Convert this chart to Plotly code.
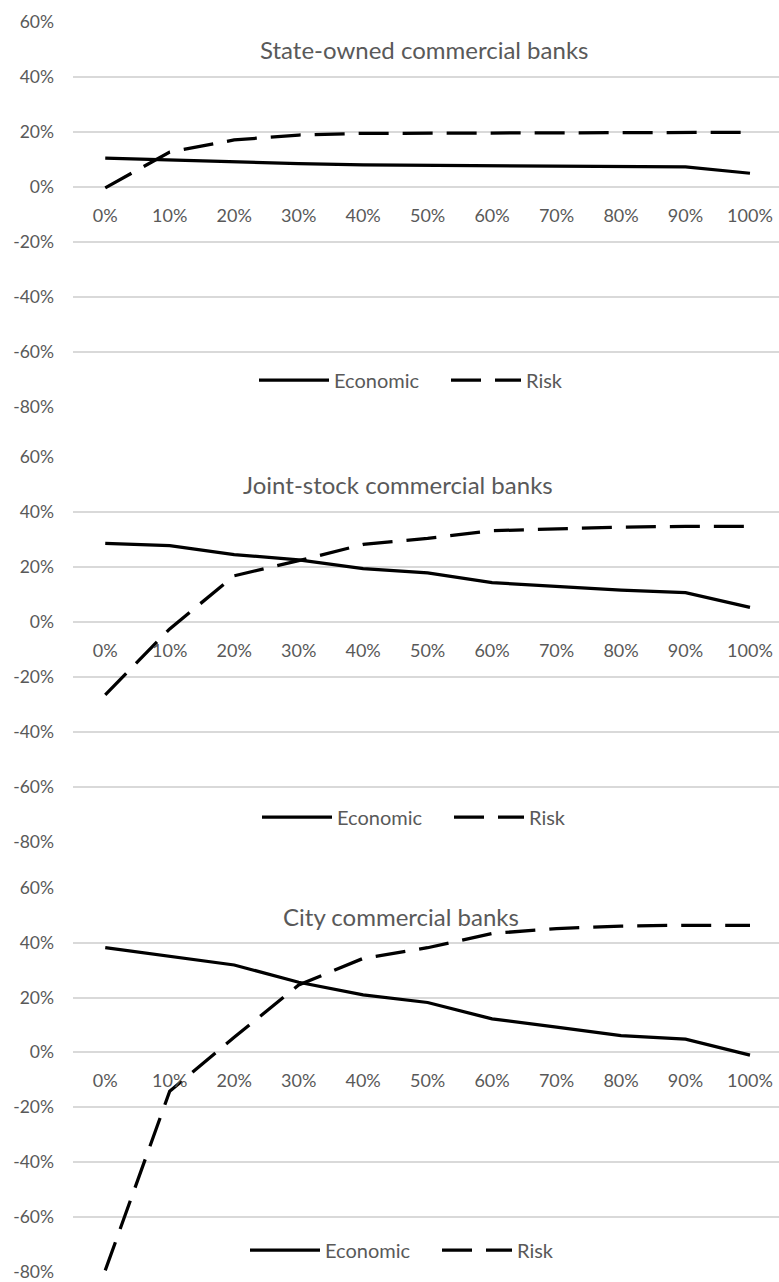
import plotly.graph_objects as go

# Share of loans shifted (x) vs. change in economic / risk outcome (%)
categories = ["0%", "10%", "20%", "30%", "40%", "50%", "60%", "70%", "80%", "90%", "100%"]

state_economic = [10.5, 9.8, 9.0, 8.5, 8.0, 7.9, 7.9, 7.7, 7.4, 7.3, 5.0]
state_risk = [-0.3, 12.7, 17.1, 18.9, 19.5, 19.6, 19.7, 19.8, 19.9, 19.9, 19.9]

joint_economic = [28.6, 27.8, 24.5, 22.6, 19.4, 17.9, 14.3, 12.9, 11.6, 10.7, 5.3]
joint_risk = [-26.5, -2.5, 16.8, 22.3, 28.2, 30.4, 33.2, 33.9, 34.5, 34.8, 34.8]

city_economic = [38.2, 35.2, 31.9, 25.6, 21.0, 18.2, 12.2, 9.2, 6.1, 4.8, -1.0]
city_risk = [-79.6, -14.2, 5.5, 24.6, 34.3, 38.2, 43.4, 45.2, 46.1, 46.4, 46.4]

panel_titles = ["State-owned commercial banks", "Joint-stock commercial banks", "City commercial banks"]
y_ticks = [-80, -60, -40, -20, 0, 20, 40, 60]
y_tick_text = [f"{v}%" for v in y_ticks]

W, H = 779, 1282
FONT = "Lato"
GREY = "#595959"
GRID = "#d9d9d9"

panels = [
    (panel_titles[0], state_economic, state_risk),
    (panel_titles[1], joint_economic, joint_risk),
    (panel_titles[2], city_economic, city_risk),
]

# pixel layout of each plot area (top of 60% line, bottom of -80% line)
panel_px = [(22, 407), (457, 842), (888, 1271.5)]
title_px = [(424, 49.5), (398, 484.5), (401, 916)]
legend_px = [(254, 380), (257, 817), (245, 1250)]
y_lo, y_hi = -80.3, 60.3
x_left_px = 73

fig = go.Figure()
layout = dict(
    template="none",
    width=W, height=H,
    margin=dict(l=0, r=0, t=0, b=0, autoexpand=False),
    paper_bgcolor="white", plot_bgcolor="white",
    font=dict(family=FONT, color=GREY),
    hovermode=False,
    annotations=[],
)

for i, (title, econ, risk) in enumerate(panels):
    sfx = "" if i == 0 else str(i + 1)
    leg = "legend" + sfx
    fig.add_trace(go.Scatter(
        x=categories, y=econ, name="Economic", mode="lines",
        line=dict(color="black", width=3.25),
        xaxis="x" + sfx, yaxis="y" + sfx, legend=leg,
    ))
    fig.add_trace(go.Scatter(
        x=categories, y=risk, name="Risk", mode="lines",
        line=dict(color="black", width=3.25, dash="30px,14px"),
        xaxis="x" + sfx, yaxis="y" + sfx, legend=leg,
    ))

    top_px, bot_px = panel_px[i]
    scale = (bot_px - top_px) / (60 - (-80))
    d1 = 1 - (top_px - (y_hi - 60) * scale) / H
    d0 = 1 - (bot_px + (-80 - y_lo) * scale) / H
    zero_pos = d0 + (d1 - d0) * (0 - y_lo) / (y_hi - y_lo)

    layout["yaxis" + sfx] = dict(
        domain=[d0, d1], range=[y_lo, y_hi],
        tickmode="array", tickvals=y_ticks, ticktext=y_tick_text,
        showgrid=True, gridcolor=GRID, gridwidth=1.5,
        zeroline=False, showline=False, ticks="",
        ticklabelstandoff=18, automargin=False, ticklabeloverflow="allow",
        tickfont=dict(family=FONT, size=17.5, color=GREY),
        anchor="x" + sfx, fixedrange=True,
    )
    layout["xaxis" + sfx] = dict(
        domain=[x_left_px / W, 1.0], range=[-0.5, 10.45],
        type="category", anchor="free", position=zero_pos,
        showgrid=False, zeroline=False, showline=False, ticks="",
        ticklabelstandoff=16, automargin=False,
        tickfont=dict(family=FONT, size=18, color=GREY),
        fixedrange=True,
    )
    lx, ly = legend_px[i]
    layout[leg] = dict(
        orientation="h", x=lx / W, y=1 - ly / H,
        xanchor="left", yanchor="middle",
        itemwidth=70, entrywidth=107, bgcolor="rgba(0,0,0,0)",
        font=dict(family=FONT, size=20, color=GREY),
        traceorder="normal",
    )
    tx, ty = title_px[i]
    layout["annotations"].append(dict(
        text=title, x=tx / W, y=1 - ty / H, xref="paper", yref="paper",
        xanchor="center", yanchor="middle", showarrow=False,
        font=dict(family=FONT, size=24, color=GREY),
    ))

fig.update_layout(**layout)
fig.write_html("out.html", config={"displayModeBar": False})
